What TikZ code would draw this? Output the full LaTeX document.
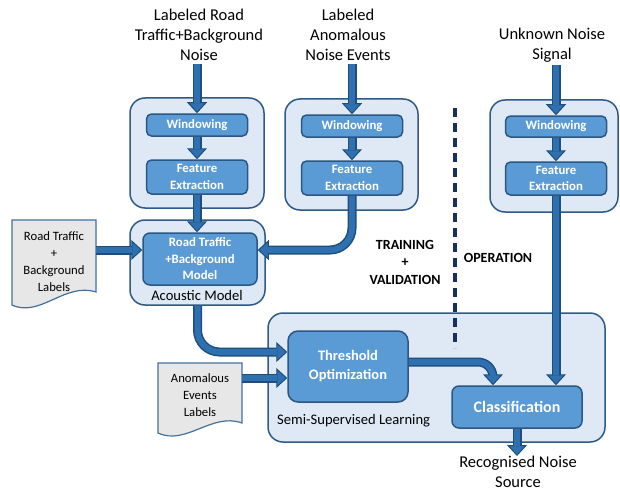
\documentclass[tikz,border=0pt]{standalone}
\usepackage{fontspec}
\setmainfont{Carlito}
\usetikzlibrary{arrows.meta,calc}
\definecolor{outerfill}{HTML}{DEE9F5}
\definecolor{outerdraw}{HTML}{2F5A86}
\definecolor{innerfill}{HTML}{5B9BD5}
\definecolor{innerdraw}{HTML}{2A5783}
\definecolor{arrowmid}{HTML}{2E70B2}
\definecolor{arrowdark}{HTML}{1F4E79}
\definecolor{docfill}{HTML}{E7E7E7}
\definecolor{docdraw}{HTML}{41719C}
\definecolor{dashcol}{HTML}{17305C}
\newcommand\flowarrow[2][]{\draw[arrowout,#1] #2; \draw[arrowin,#1] #2;}
\begin{document}
\begin{tikzpicture}[x=1pt,y=-1pt,
 container/.style={draw=outerdraw,fill=outerfill,line width=1.5pt,rounded corners=15pt,inner sep=0pt},
 procbox/.style={draw=innerdraw,fill=innerfill,line width=1.5pt,rounded corners=5pt,inner sep=0pt,align=center,text=white,font=\fontsize{12.8}{16.5}\selectfont\bfseries},
 headtext/.style={align=center,font=\fontsize{16.5}{20}\selectfont,inner sep=0pt},
 doctext/.style={align=center,font=\fontsize{12.7}{17}\selectfont,inner sep=0pt},
 docshape/.style={draw=docdraw,fill=docfill,line width=1.2pt},
 labeltext/.style={font=\fontsize{14.6}{17}\selectfont,inner sep=0pt},
 phasetext/.style={align=center,font=\fontsize{14}{17.5}\selectfont\bfseries,inner sep=0pt},
 arrowout/.style={draw=arrowdark,line width=9pt,-{Triangle[width=20pt,length=11pt,line width=1pt,fill=arrowmid]}},
 arrowin/.style={draw=arrowmid,line width=6pt,shorten >=10pt}
]
\useasboundingbox (0,0) rectangle (620,492);

% containers
\node[container,minimum width=134pt,minimum height=110pt] (box1) at (197,153) {};
\node[container,minimum width=133pt,minimum height=111pt] (box2) at (351.5,154.5) {};
\node[container,minimum width=128pt,minimum height=112pt] (box3) at (554,156) {};
\node[container,minimum width=135pt,minimum height=85pt] (amo) at (197.5,262.5) {};
\node[container,minimum width=337pt,minimum height=129pt] (lower) at (436.5,377.5) {};

% documents
\draw[docshape] (12,220) -- (96,220) -- (96,292) .. controls (65,282) and (40,318) .. (12,305) -- cycle;
\draw[docshape] (158,363) -- (242,363) -- (242,423) .. controls (212,412) and (186,446) .. (158,433) -- cycle;
\node[doctext,minimum width=84pt] (doc1) at (54,262) {Road Traffic\\+\\Background\\Labels};
\node[doctext,minimum width=84pt] (doc2) at (200,395) {Anomalous\\Events\\Labels};

% inner boxes
\node[procbox,minimum width=101pt,minimum height=22pt] (w1) at (197,125) {Windowing};
\node[procbox,minimum width=101pt,minimum height=34pt] (f1) at (197,177) {Feature\\Extraction};
\node[procbox,minimum width=101pt,minimum height=22pt] (w2) at (352,126) {Windowing};
\node[procbox,minimum width=101pt,minimum height=34pt] (f2) at (352,178) {Feature\\Extraction};
\node[procbox,minimum width=101pt,minimum height=21pt] (w3) at (556,126.5) {Windowing};
\node[procbox,minimum width=101pt,minimum height=33pt] (f3) at (556,178.5) {Feature\\Extraction};
\node[procbox,minimum width=114pt,minimum height=52pt,rounded corners=7pt] (am) at (200,259) {Road Traffic\\+Background\\Model};
\node[procbox,minimum width=120pt,minimum height=71pt,rounded corners=10pt,font=\fontsize{14.5}{19}\selectfont\bfseries] (thr) at (348,366.5) {Threshold\\Optimization};
\node[procbox,minimum width=130pt,minimum height=42pt,rounded corners=7pt,font=\fontsize{16}{19}\selectfont\bfseries] (cls) at (517,407) {Classification};

% labels
\node[labeltext] (aml) at (197,295) {Acoustic Model};
\node[labeltext,anchor=west] (ssl) at (277,421) {Semi-Supervised Learning};
\node[phasetext] (train) at (405,262) {TRAINING\\+\\VALIDATION};
\node[phasetext] (oper) at (498,258) {OPERATION};

% header texts
\node[headtext] (h1) at (199,35) {Labeled Road\\Traffic+Background\\Noise};
\node[headtext] (h2) at (348,35) {Labeled\\Anomalous\\Noise Events};
\node[headtext] (h3) at (552,45) {Unknown Noise\\Signal};
\node[headtext] (out) at (518,472) {Recognised Noise\\Source};

% dashed separator
\coordinate (dtop) at (455,108);
\coordinate (dbot) at (455,348);
\draw[dashcol,line width=3.2pt,dash pattern=on 9pt off 6pt] (dtop) -- (dbot);

% arrows
\flowarrow{([yshift=-3pt]w1.north |- h1.south) -- (w1.north)}
\flowarrow{([yshift=-3pt]w2.north |- h2.south) -- (w2.north)}
\flowarrow{([yshift=-3pt]w3.north |- h3.south) -- (w3.north)}
\flowarrow{(w1.south) -- (f1.north)}
\flowarrow{(w2.south) -- (f2.north)}
\flowarrow{(w3.south) -- (f3.north)}
\flowarrow{(f1.south) -- (f1.south |- am.north)}
\flowarrow[rounded corners=22pt]{(f2.south) |- ([yshift=9pt]am.east)}
\flowarrow{([yshift=12pt]doc1.east) -- ([yshift=12pt]doc1.east -| am.west)}
\flowarrow[rounded corners=22pt]{(amo.south) |- ([yshift=14.5pt]thr.west)}
\flowarrow{([yshift=17pt]doc2.east) -- ([yshift=17pt]doc2.east -| thr.west)}
\flowarrow[rounded corners=15pt]{([yshift=4.5pt]thr.east) -| ([xshift=-24pt]cls.north)}
\flowarrow{(f3.south) -- (f3.south |- cls.north)}
\flowarrow{(cls.south) -- (cls.south |- out.north)}
\end{tikzpicture}
\end{document}
